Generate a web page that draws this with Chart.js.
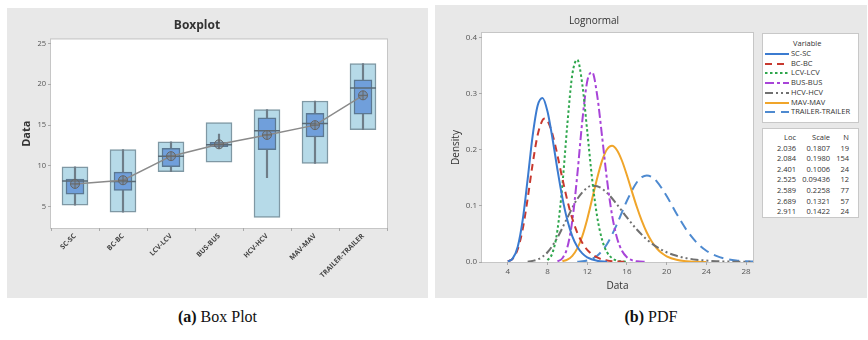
<!DOCTYPE html>
<html>
<head>
<meta charset="utf-8">
<script src="https://cdn.jsdelivr.net/npm/chart.js@4.4.1/dist/chart.umd.min.js"></script>
<style>
  html,body{margin:0;padding:0;background:#fff;}
  body{width:868px;height:340px;position:relative;overflow:hidden;font-family:"Open Sans",sans-serif;}
  .panel{position:absolute;background:#e8e8e8;}
  .cw{position:absolute;left:0;top:0;width:100%;height:100%;}
  .box{position:absolute;background:#fff;border:1px solid #c8c8c8;box-sizing:border-box;color:#333;font-size:7.5px;}
  .row{height:9.75px;line-height:9.75px;position:relative;white-space:nowrap;}
  .row svg{position:absolute;left:2px;top:1px;}
  .row span{position:absolute;left:28px;}
  .trow{display:grid;grid-template-columns:33px 34px 19px;height:10.6px;line-height:10.6px;text-align:right;}
  .cap{position:absolute;top:308px;font-family:"Liberation Serif","Times New Roman",serif;font-size:16px;color:#111;text-align:center;}
</style>
</head>
<body>
<div class="panel" style="left:7px;top:8px;width:421px;height:290px;"><div class="cw"><canvas id="c1"></canvas></div></div>
<div class="panel" id="pb" style="left:435px;top:5px;width:432px;height:293px;">
  <div class="cw"><canvas id="c2"></canvas></div>
  <div class="box" id="leg" style="left:327px;top:28px;width:97px;height:90px;padding-top:5px;"></div>
  <div class="box" id="tab" style="left:327px;top:123px;width:97px;height:90px;padding-top:3px;"></div>
</div>
<div class="cap" style="left:7px;width:421px;"><b>(a)</b> Box Plot</div>
<div class="cap" style="left:435px;width:432px;"><b>(b)</b> PDF</div>

<script>
// ---------- Box plot data ----------
const categories = ['SC-SC','BC-BC','LCV-LCV','BUS-BUS','HCV-HCV','MAV-MAV','TRAILER-TRAILER'];
const outerLow  = [5.2, 4.35, 9.3, 10.45, 3.7, 10.3, 14.45];
const outerHigh = [9.9, 12.0, 12.95, 15.3, 16.9, 17.95, 22.55];
const innerLow  = [6.55, 7.0, 9.9, 12.35, 12.0, 13.55, 16.35];
const innerHigh = [8.4, 9.25, 12.15, 12.9, 15.9, 16.45, 20.55];
const whiskLow  = [5.2, 4.35, 9.3, 12.2, 8.55, 10.3, 14.45];
const whiskHigh = [9.9, 12.0, 12.95, 13.9, 16.9, 17.95, 22.55];
const medians   = [8.15, 8.1, 11.2, 12.6, 14.3, 15.2, 19.55];
const means     = [7.8, 8.25, 11.2, 12.65, 13.8, 15.0, 18.65];
const boxTicks  = [5, 10, 15, 20, 25];

// ---------- Lognormal PDF data ----------
const scX = [4,4.5,5,5.5,6,6.5,7,7.5,8,8.5,9,9.5,10,10.5,11,11.5,12,13,14];
const scY = [0.0009,0.0064,0.0272,0.0748,0.1477,0.2248,0.2785,0.2924,0.2681,0.2200,0.1648,0.1143,0.0743,0.0458,0.0270,0.0153,0.0084,0.0023,0.0006];
const bcX = [4,4.5,5,5.5,6,6.5,7,7.5,7.75,8,8.5,9,9.5,10,10.5,11,11.5,12,13,14,15,16];
const bcY = [0.0010,0.0061,0.0228,0.0585,0.1130,0.1745,0.2257,0.2528,0.2556,0.2518,0.2277,0.1901,0.1484,0.1095,0.0771,0.0521,0.0341,0.0216,0.0081,0.0028,0.0009,0.0003];
const lcvX = [8,8.5,9,9.5,10,10.5,11,11.5,12,12.5,13,13.5,14,14.5,15,16];
const lcvY = [0.0030,0.0162,0.0566,0.1380,0.2458,0.3345,0.3603,0.3170,0.2334,0.1471,0.0809,0.0394,0.0172,0.0069,0.0025,0.0003];
const busX = [9,9.5,10,10.5,11,11.5,12,12.5,13,13.5,14,14.5,15,15.5,16,16.5,17,18];
const busY = [0.0011,0.0066,0.0263,0.0741,0.1551,0.2504,0.3219,0.3382,0.2974,0.2231,0.1454,0.0837,0.0429,0.0200,0.0085,0.0033,0.0012,0.0001];
const hcvX = [6,7,8,9,10,11,12,12.5,13,14,15,16,17,18,19,20,21,22,23,24,25,26,27,28,28.7];
const hcvY = [0.0006,0.0044,0.0173,0.0436,0.0790,0.1123,0.1324,0.1359,0.1351,0.1231,0.1025,0.0793,0.0579,0.0403,0.0269,0.0174,0.0110,0.0068,0.0041,0.0025,0.0014,0.0008,0.0005,0.0003,0.0002];
const mavX = [9.5,10,10.5,11,11.5,12,12.5,13,13.5,14,14.5,15,15.5,16,16.5,17,17.5,18,18.5,19,19.5,20,21,22,23,24];
const mavY = [0.0013,0.0042,0.0110,0.0242,0.0459,0.0763,0.1125,0.1494,0.1807,0.2009,0.2070,0.1992,0.1804,0.1545,0.1258,0.0979,0.0731,0.0525,0.0364,0.0245,0.0160,0.0102,0.0039,0.0013,0.0004,0.0001];
const trX = [11,12,13,14,15,16,17,17.5,18,18.5,19,20,21,22,23,24,25,26,27,28,28.7];
const trY = [0.0004,0.0026,0.0112,0.0322,0.0676,0.1092,0.1421,0.1511,0.1542,0.1515,0.1436,0.1175,0.0860,0.0572,0.0351,0.0200,0.0108,0.0055,0.0027,0.0013,0.0008];
const pdfXTicks = [4, 8, 12, 16, 20, 24, 28];
const pdfYTicks = [0, 0.1, 0.2, 0.3, 0.4];

const seriesNames = ['SC-SC','BC-BC','LCV-LCV','BUS-BUS','HCV-HCV','MAV-MAV','TRAILER-TRAILER'];
const locs   = ['2.036','2.084','2.401','2.525','2.589','2.689','2.911'];
const scales = ['0.1807','0.1980','0.1006','0.09436','0.2258','0.1321','0.1422'];
const counts = ['19','154','24','12','77','57','24'];

const seriesStyle = [
  {color:'#3b7bd0', dash:[]},
  {color:'#c8392f', dash:[7,5]},
  {color:'#2ea64c', dash:[2.5,2.5]},
  {color:'#a844d8', dash:[9,3,3,3]},
  {color:'#707070', dash:[8,3,2,3,2,3]},
  {color:'#f0a52a', dash:[]},
  {color:'#4e8ad0', dash:[10,6]}
];
const seriesXs = [scX, bcX, lcvX, busX, hcvX, mavX, trX];
const seriesYs = [scY, bcY, lcvY, busY, hcvY, mavY, trY];

const FONT = '"Open Sans", "Noto Sans", sans-serif';

const plotBg = {
  id: 'plotBg',
  beforeDraw(chart) {
    const {ctx, chartArea: a} = chart;
    ctx.save();
    ctx.fillStyle = '#fff';
    ctx.fillRect(a.left, a.top, a.right - a.left, a.bottom - a.top);
    ctx.strokeStyle = '#c6c6c6';
    ctx.lineWidth = 1;
    ctx.strokeRect(a.left - 0.5, a.top - 0.5, a.right - a.left + 1, a.bottom - a.top + 1);
    ctx.restore();
  }
};

// ---------- Box plot chart ----------
new Chart(document.getElementById('c1'), {
  type: 'bar',
  data: {
    labels: categories,
    datasets: [
      {type:'bar', data: categories.map((c,i)=>[outerLow[i], outerHigh[i]]), backgroundColor:'#b6dae8', borderColor:'#7f98a4', borderWidth:1.5, borderSkipped:false, barThickness:26, grouped:false, order:6},
      {type:'bar', data: categories.map((c,i)=>[whiskLow[i], whiskHigh[i]]), backgroundColor:'#6e7d88', borderWidth:0, barThickness:1.5, grouped:false, order:5},
      {type:'bar', data: categories.map((c,i)=>[innerLow[i], innerHigh[i]]), backgroundColor:'#709fdb', borderColor:'#5b7892', borderWidth:1.5, borderSkipped:false, barThickness:18, grouped:false, order:4},
      {type:'line', data: medians, showLine:false, pointStyle:'line', pointRadius:13, pointBorderWidth:1.5, pointBorderColor:'#5a6a76', order:3},
      {type:'line', data: means, borderColor:'#8a8a8a', borderWidth:1.5, tension:0, pointStyle:'circle', pointRadius:4.5, pointBackgroundColor:'rgba(120,130,140,0.45)', pointBorderColor:'#666', pointBorderWidth:1, order:2},
      {type:'line', data: means, showLine:false, pointStyle:'cross', pointRadius:4.5, pointBorderColor:'#666', pointBorderWidth:1, order:1}
    ]
  },
  options: {
    responsive: true, maintainAspectRatio: false, animation: false,
    layout: {padding: {left:0, right:41, top:0, bottom:0}},
    plugins: {
      legend: {display:false}, tooltip: {enabled:false},
      title: {display:true, text:'Boxplot', color:'#333', font:{family:FONT, size:12, weight:'bold'}, padding:{top:10, bottom:7}}
    },
    scales: {
      x: {
        type:'category', offset:true,
        grid:{drawOnChartArea:false, drawTicks:true, tickLength:3, color:'#aaa'},
        border:{display:false},
        ticks:{minRotation:45, maxRotation:45, color:'#444', padding:1, font:{family:FONT, size:7, weight:'bold'}},
        afterFit(s){ s.height = 70; }
      },
      y: {
        min:2.4, max:25.5,
        afterBuildTicks(s){ s.ticks = boxTicks.map(v=>({value:v})); },
        grid:{drawOnChartArea:false, drawTicks:true, tickLength:3, color:'#aaa'},
        border:{display:false},
        ticks:{color:'#555', padding:2, font:{family:FONT, size:7.5}},
        title:{display:true, text:'Data', color:'#333', font:{family:FONT, size:11, weight:'bold'}, padding:{top:13, bottom:0}},
        afterFit(s){ s.width = 44; }
      }
    }
  },
  plugins: [plotBg]
});

// ---------- Lognormal chart ----------
new Chart(document.getElementById('c2'), {
  type: 'line',
  data: {
    datasets: seriesNames.map((n,k)=>({
      label: n,
      data: seriesXs[k].map((x,i)=>({x:x, y:seriesYs[k][i]})),
      borderColor: seriesStyle[k].color,
      borderDash: seriesStyle[k].dash,
      borderWidth: 2,
      pointRadius: 0,
      cubicInterpolationMode: 'monotone',
      fill: false
    }))
  },
  options: {
    responsive: true, maintainAspectRatio: false, animation: false,
    layout: {padding: {left:0, right:114, top:0, bottom:0}},
    plugins: {
      legend: {display:false}, tooltip: {enabled:false},
      title: {display:true, text:'Lognormal', color:'#333', font:{family:FONT, size:10, weight:'normal'}, padding:{top:10, bottom:6}}
    },
    scales: {
      x: {
        type:'linear', min:1.4, max:28.7,
        afterBuildTicks(s){ s.ticks = pdfXTicks.map(v=>({value:v})); },
        grid:{drawOnChartArea:false, drawTicks:true, tickLength:3, color:'#aaa'},
        border:{display:false},
        ticks:{color:'#555', padding:2, font:{family:FONT, size:8}},
        title:{display:true, text:'Data', color:'#333', font:{family:FONT, size:10}, padding:{top:0, bottom:6}},
        afterFit(s){ s.height = 36; }
      },
      y: {
        min:0, max:0.408,
        afterBuildTicks(s){ s.ticks = pdfYTicks.map(v=>({value:v})); },
        grid:{drawOnChartArea:false, drawTicks:true, tickLength:3, color:'#aaa'},
        border:{display:false},
        ticks:{color:'#555', padding:2, font:{family:FONT, size:8}, callback:(v)=>Number(v).toFixed(1)},
        title:{display:true, text:'Density', color:'#333', font:{family:FONT, size:10}, padding:{top:15, bottom:0}},
        afterFit(s){ s.width = 47; }
      }
    }
  },
  plugins: [plotBg]
});

// ---------- HTML legend & parameter table ----------
const leg = document.getElementById('leg');
let html = '<div class="row"><span style="left:30px">Variable</span></div>';
seriesNames.forEach((n,k)=>{
  const st = seriesStyle[k];
  html += '<div class="row"><svg width="24" height="8"><line x1="0" y1="4" x2="24" y2="4" stroke="'+st.color+'" stroke-width="2" stroke-dasharray="'+(st.dash.length?st.dash.join(','):'none')+'"/></svg><span>'+n+'</span></div>';
});
leg.innerHTML = html;
const tab = document.getElementById('tab');
let th = '<div class="trow"><div>Loc</div><div>Scale</div><div>N</div></div>';
locs.forEach((l,i)=>{ th += '<div class="trow"><div>'+l+'</div><div>'+scales[i]+'</div><div>'+counts[i]+'</div></div>'; });
tab.innerHTML = th;
</script>
</body>
</html>
